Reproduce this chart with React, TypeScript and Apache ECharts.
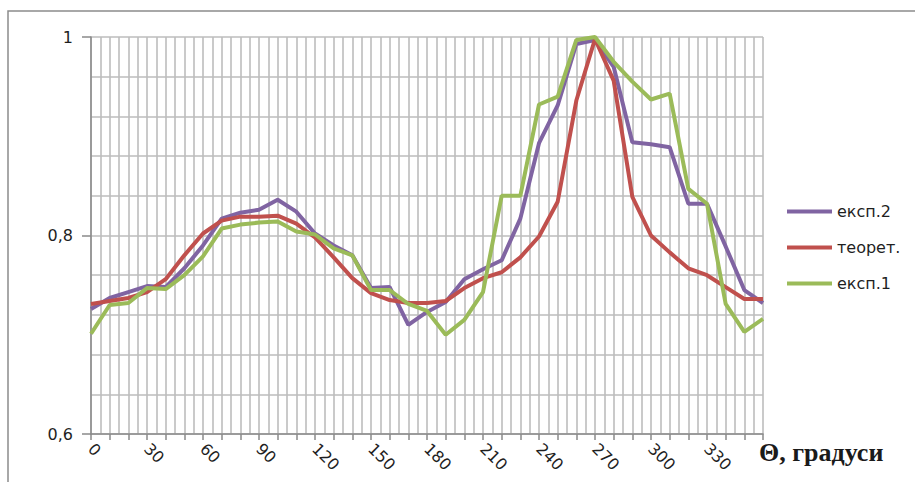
import React, { useEffect, useRef } from "react";
import * as echarts from "echarts";

const thetas = [0, 10, 20, 30, 40, 50, 60, 70, 80, 90, 100, 110, 120, 130, 140, 150, 160, 170, 180, 190, 200, 210, 220, 230, 240, 250, 260, 270, 280, 290, 300, 310, 320, 330, 340, 350, 360];

const exp2 = [0.726, 0.737, 0.743, 0.749, 0.748, 0.767, 0.79, 0.817, 0.823, 0.826, 0.836, 0.824, 0.802, 0.79, 0.78, 0.747, 0.748, 0.71, 0.723, 0.733, 0.756, 0.766, 0.775, 0.817, 0.893, 0.931, 0.993, 0.997, 0.97, 0.894, 0.892, 0.889, 0.832, 0.832, 0.789, 0.745, 0.732];

const theor = [0.731, 0.734, 0.737, 0.743, 0.756, 0.78, 0.802, 0.815, 0.819, 0.819, 0.82, 0.812, 0.798, 0.778, 0.757, 0.742, 0.735, 0.732, 0.732, 0.734, 0.747, 0.757, 0.763, 0.778, 0.799, 0.834, 0.936, 0.998, 0.956, 0.839, 0.8, 0.783, 0.767, 0.76, 0.748, 0.736, 0.736];

const exp1 = [0.701, 0.73, 0.732, 0.747, 0.746, 0.76, 0.779, 0.807, 0.811, 0.813, 0.814, 0.804, 0.801, 0.787, 0.78, 0.745, 0.745, 0.731, 0.724, 0.7, 0.715, 0.743, 0.84, 0.84, 0.932, 0.94, 0.997, 1.0, 0.975, 0.955, 0.937, 0.943, 0.847, 0.832, 0.731, 0.703, 0.716];

const seriesNames = ["експ.2", "теорет.", "експ.1"];
const seriesColors = ["#8064A2", "#C0504D", "#9BBB59"];
const seriesValues = [exp2, theor, exp1];

const xLabelEvery = 30;
const xMax = 360;
const axisTitle = "Θ, градуси";

export default function App() {
  const ref = useRef<HTMLDivElement>(null);

  useEffect(() => {
    if (!ref.current) return;
    const chart = echarts.init(ref.current, null, { renderer: "svg" });
    const font = "DejaVu Sans";
    const gridColor = "#bdbdbd";
    const option = {
      animation: false,
      backgroundColor: "#ffffff",
      grid: { left: 91, top: 37, right: 152, bottom: 48, containLabel: false },
      xAxis: {
        type: "value",
        min: 0,
        max: xMax,
        interval: 10,
        axisLine: { show: true, onZero: false, lineStyle: { color: "#8a8a8a", width: 1.5 } },
        axisTick: { show: true, length: 6, lineStyle: { color: "#8a8a8a", width: 1.5 } },
        minorTick: { show: false, splitNumber: 2 },
        splitLine: { show: true, lineStyle: { color: gridColor, width: 1.6 } },
        minorSplitLine: { show: true, lineStyle: { color: gridColor, width: 1.6 } },
        axisLabel: {
          rotate: -45,
          margin: 12,
          fontSize: 16,
          fontFamily: font,
          color: "#1f1f1f",
          formatter: (v: number) => (v % xLabelEvery === 0 && v < xMax ? String(v) : ""),
        },
      },
      yAxis: {
        type: "value",
        min: 0.6,
        max: 1,
        interval: 0.2,
        axisLine: { show: true, lineStyle: { color: "#8a8a8a", width: 1.5 } },
        axisTick: { show: true, length: 9, lineStyle: { color: "#8a8a8a", width: 1.5 } },
        minorTick: { show: false, splitNumber: 5 },
        splitLine: { show: true, lineStyle: { color: gridColor, width: 1.6 } },
        minorSplitLine: { show: true, lineStyle: { color: gridColor, width: 1.6 } },
        axisLabel: {
          margin: 18,
          fontSize: 16,
          fontFamily: font,
          color: "#1f1f1f",
          formatter: (v: number) => String(Math.round(v * 10) / 10).replace(".", ","),
        },
      },
      legend: {
        orient: "vertical",
        left: 787,
        top: 203,
        padding: 0,
        icon: "rect",
        itemWidth: 45,
        itemHeight: 4,
        itemGap: 19,
        data: seriesNames,
        textStyle: { fontSize: 16, fontFamily: font, color: "#1f1f1f", lineHeight: 17, padding: [0, 0, 0, 0] },
      },
      graphic: [
        {
          type: "rect",
          shape: { x: 8, y: 11, width: 930, height: 500 },
          style: { fill: "none", stroke: "#8c8c8c", lineWidth: 1.5 },
          silent: true,
        },
        {
          type: "text",
          left: 759,
          top: 439,
          style: {
            text: axisTitle,
            font: "bold 26px 'Liberation Serif'",
            fill: "#1a1a1a",
          },
        },
      ],
      series: seriesNames.map((name, i) => ({
        name,
        type: "line",
        showSymbol: false,
        symbol: "none",
        color: seriesColors[i],
        lineStyle: { color: seriesColors[i], width: 4 },
        data: thetas.map((t, j) => [t, seriesValues[i][j]]),
      })),
    };
    chart.setOption(option as any);
    return () => chart.dispose();
  }, []);

  return (
    <div style={{ position: "fixed", left: 0, top: 0, width: 915, height: 482, background: "#fff" }}>
      <div ref={ref} style={{ width: 915, height: 482 }} />
    </div>
  );
}
